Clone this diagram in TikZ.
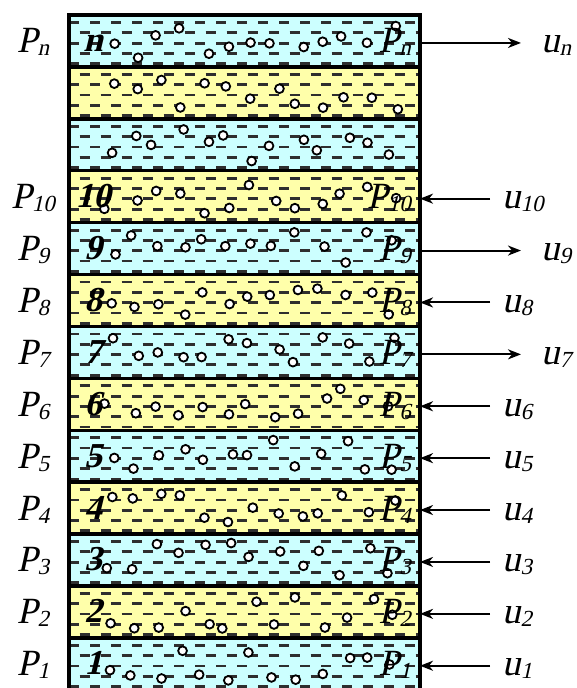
\documentclass[tikz,border=0pt]{standalone}
\usepackage{fontspec}
\setmainfont{Liberation Serif}[AutoFakeSlant=0.22]
\newfontfamily\numfont{Liberation Serif}[FakeSlant=0.24]
\usetikzlibrary{arrows.meta}
\definecolor{ink}{HTML}{000000}
\definecolor{water}{HTML}{CCFFFF}
\definecolor{sand}{HTML}{FFFFAA}
\definecolor{dashc}{HTML}{2E2E2E}

\newcommand{\idx}[2]{\textit{#1}\raisebox{-3pt}{\fontsize{23}{23}\selectfont\textit{#2}}}

\tikzset{
  wall/.style={draw=ink, line width=3.4pt},
  dashrow/.style={draw=dashc, line width=2.8pt, dash pattern=on 10pt off 11pt},
  bubble/.style={draw=ink, fill=white, line width=1.8pt},
  flow/.style={draw=ink, line width=2pt, -{Stealth[length=13pt, width=10pt, inset=4pt]}},
  plabel/.style={font=\fontsize{37}{40}\selectfont, inner sep=0pt, anchor=base},
  numlabel/.style={font=\fontsize{35}{36}\selectfont\numfont\bfseries, inner sep=0pt, anchor=base},
}

\begin{document}
\begin{tikzpicture}[x=1pt, y=-1pt]

\useasboundingbox (0,0) rectangle (577,688);

\def\xl{69}
\def\xr{420}
\def\yt{15}
\def\lh{51.9}

% strata, dashes clipped to the column
\begin{scope}
  \clip (\xl,\yt) rectangle (\xr,700);
  \foreach \k in {0,...,12}{
    \pgfmathsetmacro{\ya}{\yt+\k*\lh}
    \pgfmathtruncatemacro{\odd}{mod(\k,2)}
    \ifnum\odd=0 \def\fc{water}\else \def\fc{sand}\fi
    \fill[\fc] (\xl,\ya) rectangle (\xr,{\ya+\lh});
    \foreach \r in {0,...,4}{
      \pgfmathsetmacro{\yy}{\ya+7.5+\r*10.3}
      \pgfmathsetmacro{\ph}{mod(\r+\k,2)*10.5}
      \draw[dashrow, dash phase=\ph] (\xl,\yy) -- (\xr,\yy);
    }
  }
  % gas bubbles
  \pgfmathsetseed{4217}
  \foreach \k in {0,...,12}{
    \foreach \c in {0,...,12}{
      \pgfmathsetmacro{\cx}{104+23.5*\c+12*rnd}
      \pgfmathsetmacro{\cy}{\yt+\k*\lh+9+34*rnd}
      \draw[bubble] (\cx,\cy) circle[radius=4.4];
    }
  }
\end{scope}

\draw[wall] (\xl,700) -- (\xl,\yt) -- (\xr,\yt) -- (\xr,700);
\foreach \k in {1,...,12}
  \draw[wall] (\xl,{\yt+\k*\lh}) -- (\xr,{\yt+\k*\lh});

% labels and flows, 1 = production (outward), 0 = injection (inward)
\foreach \k/\s/\dir in {0/n/1, 3/10/0, 4/9/1, 5/8/0, 6/7/1, 7/6/0,
                        8/5/0, 9/4/0, 10/3/0, 11/2/0, 12/1/0}{
  \pgfmathsetmacro{\yc}{\yt+\k*\lh+\lh/2}
  \node[plabel] (pl\s) at (33,{\yc+12}) {\idx{P}{\s}};
  \node[numlabel] (num\s) at (93,{\yc+11}) {\s};
  \node[plabel, anchor=base east] (pr\s) at (411,{\yc+12}) {\idx{P}{\s}};
  \coordinate (w\s) at (\xr,{\yc+2});
  \ifnum\dir=1
    \coordinate (t\s) at (521,{\yc+2});
    \draw[flow] (w\s) -- (t\s);
    \node[plabel, anchor=base west] (u\s) at (541,{\yc+12}) {\idx{u}{\s}};
  \else
    \coordinate (t\s) at (490,{\yc+2});
    \draw[flow] (t\s) -- (w\s);
    \node[plabel, anchor=base west] (u\s) at (502,{\yc+12}) {\idx{u}{\s}};
  \fi
}

\end{tikzpicture}
\end{document}
